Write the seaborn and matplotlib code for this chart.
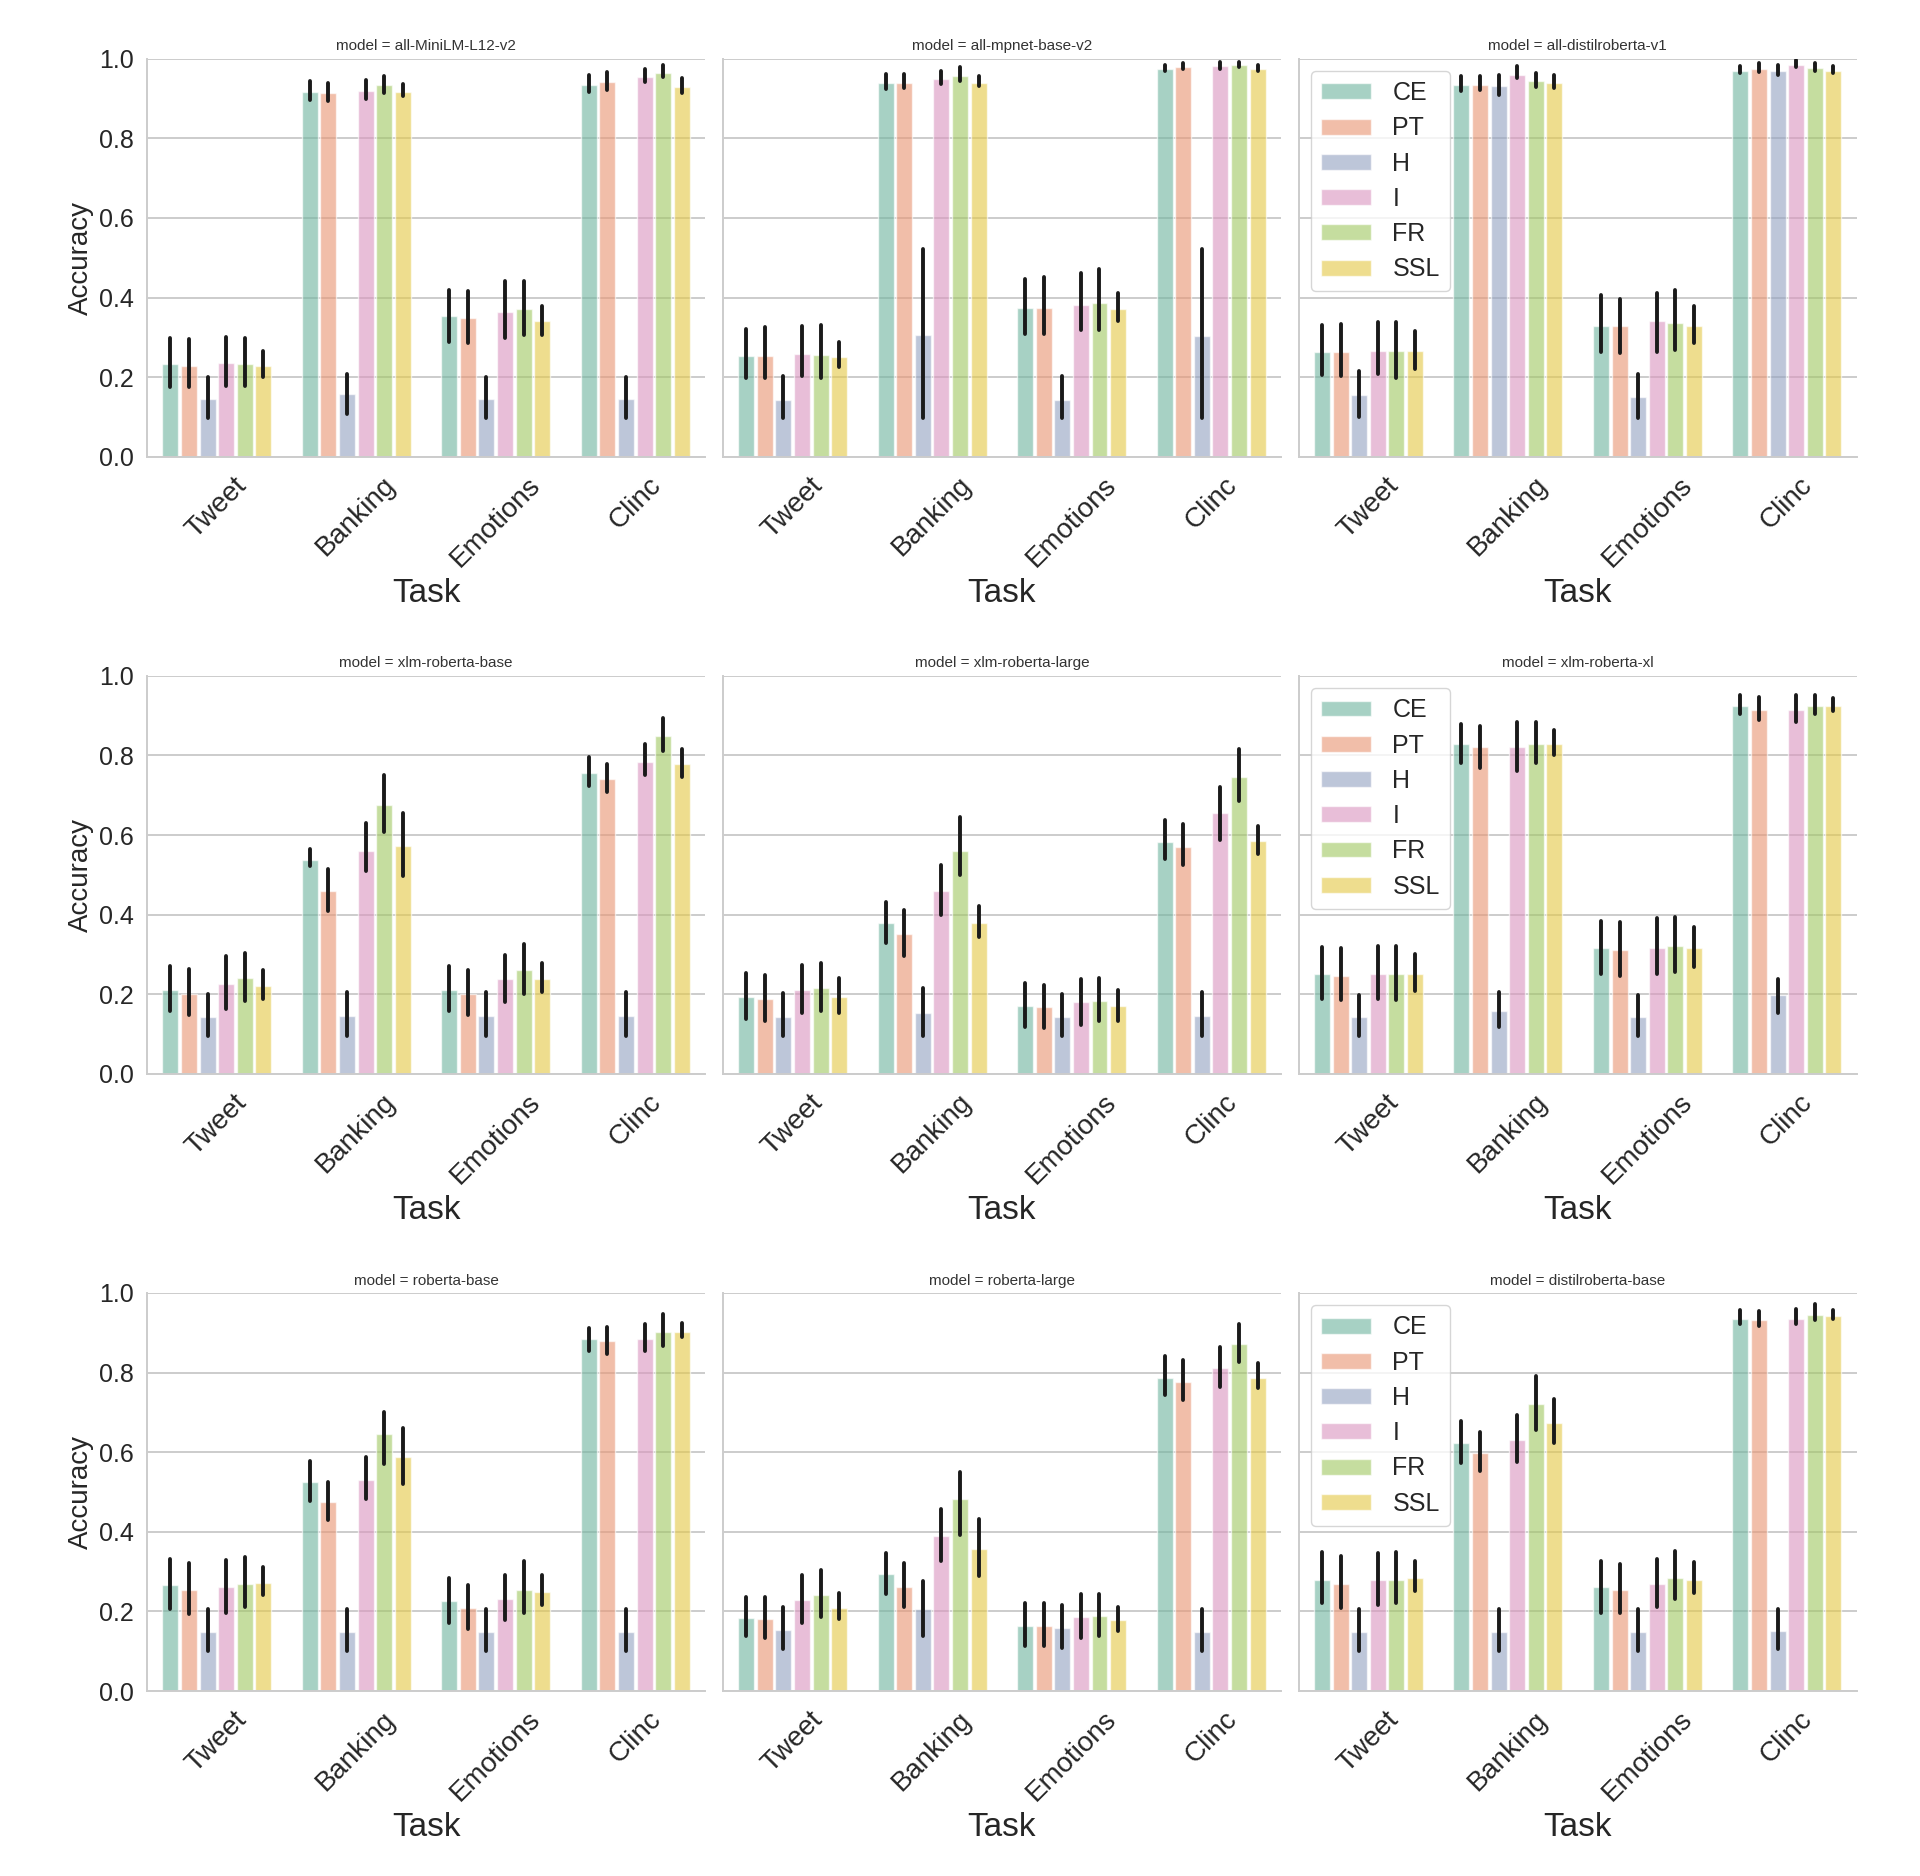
import numpy as np
import pandas as pd
import matplotlib
matplotlib.use("Agg")
import matplotlib.pyplot as plt
import seaborn as sns

TASKS = ["Tweet", "Banking", "Emotions", "Clinc"]
METHODS = ["CE", "PT", "H", "I", "FR", "SSL"]
MODELS = ["all-MiniLM-L12-v2", "all-mpnet-base-v2", "all-distilroberta-v1",
          "xlm-roberta-base", "xlm-roberta-large", "xlm-roberta-xl",
          "roberta-base", "roberta-large", "distilroberta-base"]

# rows: tasks (Tweet, Banking, Emotions, Clinc); columns: methods
minilm_mean = [[0.234, 0.229, 0.145, 0.236, 0.234, 0.229],
               [0.916, 0.914, 0.157, 0.920, 0.934, 0.916],
               [0.353, 0.349, 0.145, 0.363, 0.371, 0.341],
               [0.934, 0.941, 0.145, 0.953, 0.965, 0.928]]
minilm_lo = [[0.175, 0.175, 0.098, 0.177, 0.177, 0.200],
             [0.896, 0.894, 0.108, 0.899, 0.914, 0.906],
             [0.289, 0.287, 0.098, 0.298, 0.305, 0.305],
             [0.916, 0.921, 0.098, 0.941, 0.953, 0.914]]
minilm_hi = [[0.298, 0.295, 0.200, 0.300, 0.298, 0.266],
             [0.943, 0.939, 0.209, 0.946, 0.957, 0.936],
             [0.419, 0.417, 0.200, 0.442, 0.442, 0.379],
             [0.958, 0.967, 0.200, 0.973, 0.983, 0.951]]

mpnet_mean = [[0.254, 0.254, 0.143, 0.259, 0.257, 0.252],
              [0.939, 0.939, 0.305, 0.948, 0.956, 0.939],
              [0.373, 0.375, 0.143, 0.382, 0.387, 0.371],
              [0.975, 0.978, 0.303, 0.982, 0.985, 0.975]]
mpnet_lo = [[0.197, 0.197, 0.098, 0.202, 0.197, 0.226],
            [0.924, 0.926, 0.098, 0.936, 0.943, 0.931],
            [0.308, 0.308, 0.098, 0.318, 0.318, 0.341],
            [0.970, 0.973, 0.098, 0.975, 0.980, 0.970]]
mpnet_hi = [[0.320, 0.325, 0.203, 0.328, 0.331, 0.289],
            [0.962, 0.962, 0.523, 0.970, 0.978, 0.956],
            [0.447, 0.452, 0.203, 0.461, 0.473, 0.412],
            [0.985, 0.990, 0.521, 0.993, 0.993, 0.985]]

distilv1_mean = [[0.264, 0.264, 0.155, 0.266, 0.266, 0.266],
                 [0.934, 0.934, 0.931, 0.960, 0.943, 0.938],
                 [0.328, 0.328, 0.150, 0.340, 0.335, 0.328],
                 [0.970, 0.975, 0.970, 0.985, 0.977, 0.970]]
distilv1_lo = [[0.205, 0.202, 0.101, 0.207, 0.197, 0.221],
               [0.918, 0.921, 0.909, 0.951, 0.929, 0.926],
               [0.264, 0.261, 0.098, 0.264, 0.269, 0.286],
               [0.965, 0.967, 0.960, 0.980, 0.970, 0.965]]
distilv1_hi = [[0.330, 0.333, 0.216, 0.338, 0.338, 0.315],
               [0.957, 0.957, 0.958, 0.982, 0.965, 0.958],
               [0.407, 0.397, 0.209, 0.412, 0.419, 0.379],
               [0.982, 0.988, 0.983, 0.997, 0.988, 0.982]]

xlmrbase_mean = [[0.212, 0.202, 0.144, 0.226, 0.242, 0.221],
                 [0.538, 0.459, 0.146, 0.560, 0.675, 0.572],
                 [0.212, 0.202, 0.146, 0.238, 0.262, 0.238],
                 [0.755, 0.742, 0.146, 0.783, 0.848, 0.778]]
xlmrbase_lo = [[0.158, 0.148, 0.096, 0.163, 0.183, 0.189],
               [0.523, 0.410, 0.096, 0.510, 0.608, 0.497],
               [0.158, 0.148, 0.096, 0.180, 0.202, 0.206],
               [0.723, 0.709, 0.096, 0.752, 0.810, 0.747]]
xlmrbase_hi = [[0.271, 0.263, 0.202, 0.297, 0.305, 0.260],
               [0.564, 0.514, 0.206, 0.630, 0.750, 0.656],
               [0.271, 0.260, 0.206, 0.298, 0.326, 0.279],
               [0.797, 0.778, 0.206, 0.829, 0.894, 0.817]]

xlmrlarge_mean = [[0.194, 0.188, 0.144, 0.212, 0.215, 0.194],
                  [0.379, 0.351, 0.154, 0.459, 0.560, 0.379],
                  [0.170, 0.167, 0.144, 0.180, 0.182, 0.170],
                  [0.582, 0.571, 0.146, 0.656, 0.747, 0.586]]
xlmrlarge_lo = [[0.138, 0.134, 0.096, 0.154, 0.158, 0.154],
                [0.329, 0.295, 0.096, 0.398, 0.500, 0.343],
                [0.119, 0.115, 0.096, 0.122, 0.132, 0.132],
                [0.540, 0.526, 0.096, 0.588, 0.685, 0.552]]
xlmrlarge_hi = [[0.254, 0.249, 0.204, 0.274, 0.278, 0.240],
                [0.433, 0.413, 0.216, 0.526, 0.646, 0.422],
                [0.228, 0.223, 0.202, 0.238, 0.242, 0.212],
                [0.638, 0.629, 0.206, 0.720, 0.817, 0.624]]

xlmrxl_mean = [[0.250, 0.247, 0.144, 0.252, 0.252, 0.250],
               [0.829, 0.821, 0.159, 0.821, 0.829, 0.829],
               [0.316, 0.312, 0.144, 0.316, 0.321, 0.316],
               [0.923, 0.915, 0.199, 0.913, 0.925, 0.925]]
xlmrxl_lo = [[0.189, 0.185, 0.096, 0.189, 0.185, 0.209],
             [0.781, 0.769, 0.119, 0.762, 0.781, 0.800],
             [0.252, 0.247, 0.096, 0.252, 0.257, 0.269],
             [0.903, 0.888, 0.154, 0.885, 0.903, 0.911]]
xlmrxl_hi = [[0.319, 0.316, 0.199, 0.321, 0.322, 0.300],
             [0.879, 0.875, 0.206, 0.884, 0.884, 0.864],
             [0.384, 0.382, 0.199, 0.391, 0.393, 0.370],
             [0.951, 0.946, 0.239, 0.951, 0.952, 0.944]]

robbase_mean = [[0.266, 0.254, 0.149, 0.262, 0.269, 0.272],
                [0.525, 0.476, 0.149, 0.531, 0.645, 0.587],
                [0.225, 0.208, 0.149, 0.232, 0.254, 0.249],
                [0.885, 0.878, 0.149, 0.885, 0.902, 0.901]]
robbase_lo = [[0.205, 0.193, 0.100, 0.197, 0.210, 0.242],
              [0.477, 0.430, 0.100, 0.482, 0.569, 0.521],
              [0.171, 0.156, 0.100, 0.178, 0.196, 0.215],
              [0.855, 0.847, 0.100, 0.855, 0.867, 0.888]]
robbase_hi = [[0.332, 0.321, 0.205, 0.330, 0.337, 0.311],
              [0.579, 0.525, 0.205, 0.589, 0.701, 0.660],
              [0.285, 0.266, 0.205, 0.291, 0.327, 0.291],
              [0.911, 0.914, 0.205, 0.921, 0.948, 0.924]]

roblarge_mean = [[0.183, 0.181, 0.153, 0.228, 0.241, 0.208],
                 [0.293, 0.261, 0.205, 0.389, 0.482, 0.357],
                 [0.164, 0.164, 0.158, 0.186, 0.188, 0.178],
                 [0.787, 0.777, 0.149, 0.811, 0.872, 0.787]]
roblarge_lo = [[0.137, 0.132, 0.105, 0.171, 0.186, 0.181],
               [0.244, 0.210, 0.139, 0.327, 0.393, 0.290],
               [0.114, 0.112, 0.109, 0.132, 0.139, 0.152],
               [0.743, 0.731, 0.100, 0.764, 0.826, 0.761]]
roblarge_hi = [[0.237, 0.235, 0.210, 0.291, 0.303, 0.247],
               [0.347, 0.321, 0.276, 0.457, 0.549, 0.432],
               [0.222, 0.220, 0.217, 0.244, 0.244, 0.212],
               [0.841, 0.831, 0.205, 0.865, 0.922, 0.823]]

distilbase_mean = [[0.279, 0.269, 0.149, 0.279, 0.279, 0.285],
                   [0.624, 0.598, 0.149, 0.631, 0.720, 0.673],
                   [0.262, 0.254, 0.149, 0.269, 0.285, 0.279],
                   [0.934, 0.932, 0.152, 0.935, 0.945, 0.941]]
distilbase_lo = [[0.220, 0.208, 0.100, 0.217, 0.222, 0.252],
                 [0.574, 0.552, 0.100, 0.575, 0.655, 0.624],
                 [0.197, 0.197, 0.100, 0.210, 0.232, 0.246],
                 [0.922, 0.917, 0.105, 0.922, 0.932, 0.934]]
distilbase_hi = [[0.350, 0.340, 0.205, 0.347, 0.350, 0.326],
                 [0.679, 0.650, 0.205, 0.694, 0.792, 0.733],
                 [0.327, 0.318, 0.205, 0.332, 0.352, 0.323],
                 [0.958, 0.955, 0.205, 0.960, 0.973, 0.958]]

PANELS = [
    (minilm_mean, minilm_lo, minilm_hi),
    (mpnet_mean, mpnet_lo, mpnet_hi),
    (distilv1_mean, distilv1_lo, distilv1_hi),
    (xlmrbase_mean, xlmrbase_lo, xlmrbase_hi),
    (xlmrlarge_mean, xlmrlarge_lo, xlmrlarge_hi),
    (xlmrxl_mean, xlmrxl_lo, xlmrxl_hi),
    (robbase_mean, robbase_lo, robbase_hi),
    (roblarge_mean, roblarge_lo, roblarge_hi),
    (distilbase_mean, distilbase_lo, distilbase_hi),
]


def long_frame(mean, lo, hi):
    rows = []
    for ti, task in enumerate(TASKS):
        for mi, meth in enumerate(METHODS):
            for v in (lo[ti][mi], mean[ti][mi], hi[ti][mi]):
                rows.append({"Task": task, "Method": meth, "Accuracy": v})
    return pd.DataFrame(rows)


sns.set_theme(style="whitegrid")
plt.rcParams["font.family"] = ["Liberation Sans", "DejaVu Sans"]
plt.rcParams["grid.linewidth"] = 1.4
plt.rcParams["axes.linewidth"] = 1.4

fig, axes = plt.subplots(3, 3, figsize=(19.2, 18.76), dpi=100, sharey=True)
fig.subplots_adjust(left=0.0766, right=0.967, top=0.9687, bottom=0.0986,
                    wspace=0.032, hspace=0.55)

for k, (model, (mean, lo, hi)) in enumerate(zip(MODELS, PANELS)):
    r, c = divmod(k, 3)
    ax = axes[r, c]
    df = long_frame(mean, lo, hi)
    sns.barplot(data=df, x="Task", y="Accuracy", hue="Method",
                order=TASKS, hue_order=METHODS, palette="Set2",
                estimator="median",
                errorbar=lambda v: (np.min(v), np.max(v)),
                err_kws={"color": "#1a1a1a", "linewidth": 2.8},
                alpha=0.62, gap=0.14, ax=ax, legend=(c == 2))
    ax.set_ylim(0, 1.0)
    ax.set_yticks([0.0, 0.2, 0.4, 0.6, 0.8, 1.0])
    ax.set_yticklabels(["0.0", "0.2", "0.4", "0.6", "0.8", "1.0"])
    ax.tick_params(axis="y", labelsize=18)
    ax.tick_params(axis="x", labelsize=20, pad=5)
    for lab in ax.get_xticklabels():
        lab.set_rotation(45)
    ax.set_title(f"model = {model}", fontsize=11, color=".2")
    ax.set_xlabel("Task", fontsize=24, labelpad=4)
    ax.set_ylabel("Accuracy" if c == 0 else "", fontsize=20)
    if c == 2:
        sns.move_legend(ax, "upper left", title=None, fontsize=18,
                        handlelength=2.0, handleheight=0.6,
                        handletextpad=0.85, labelspacing=0.45,
                        borderaxespad=0.5, frameon=True)

sns.despine(fig=fig)
fig.savefig("out.png", dpi=100)
